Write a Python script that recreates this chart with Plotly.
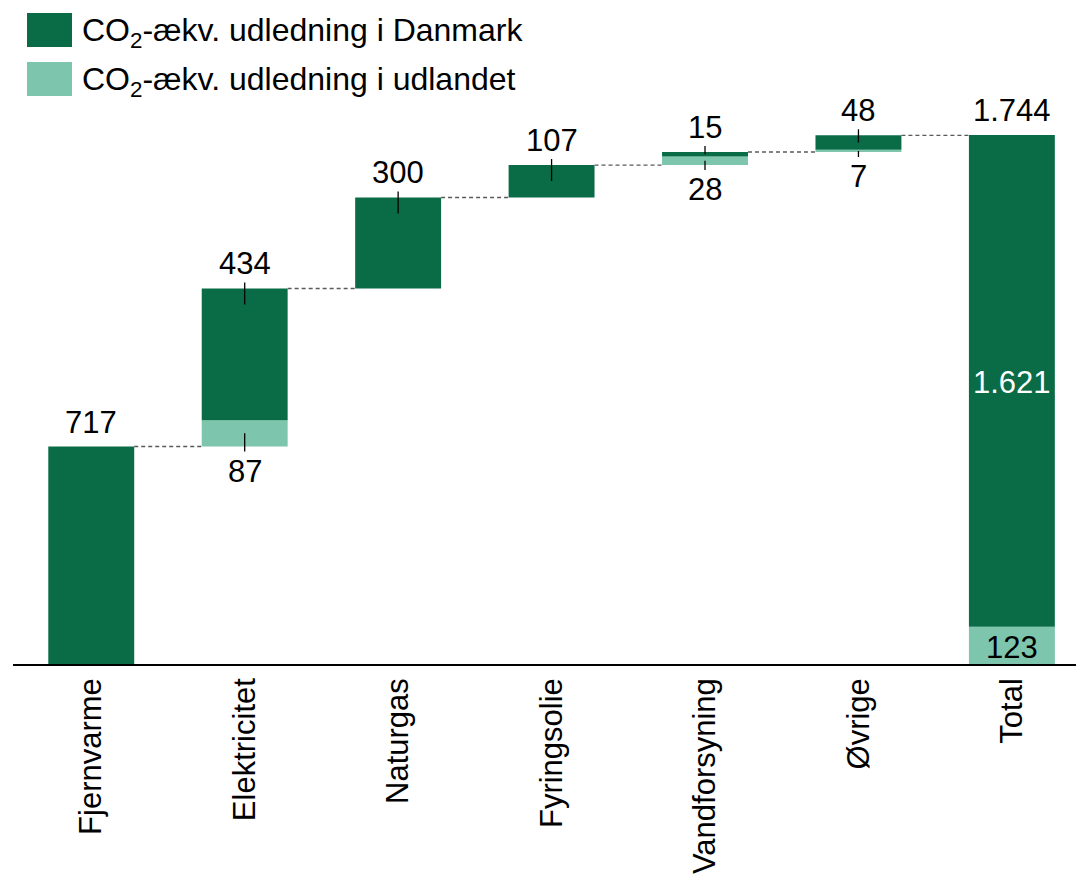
import plotly.graph_objects as go

# ---------------- data ----------------
categories = ["Fjernvarme", "Elektricitet", "Naturgas", "Fyringsolie",
              "Vandforsyning", "Øvrige", "Total"]
dk_values = [717, 434, 300, 107, 15, 48, 1621]        # CO2-ækv. udledning i Danmark
abroad_values = [0, 87, 0, 0, 28, 7, 123]              # CO2-ækv. udledning i udlandet
total_label_value = 1744

series_names = ["CO<sub>2</sub>-ækv. udledning i Danmark",
                "CO<sub>2</sub>-ækv. udledning i udlandet"]

# ---------------- style ----------------
DARK = "#0A6C46"
LIGHT = "#7DC5AC"
FONT = "Liberation Sans, Arial, sans-serif"
FS = 31          # numbers / tick labels
FS_LEG = 32      # legend
OFF = 8          # page body margin
W, H = 1084 - OFF, 877 - OFF
M_L, M_R, M_T, M_B = 13 - OFF, 0, 0, 213
plot_w = W - M_L - M_R
plot_h = H - M_T - M_B
Y_TOP = total_label_value * plot_h / 529.0   # axis range top
px_per_unit = plot_h / Y_TOP
BAR_W = 0.56

def fmt(v):
    return f"{v:,}".replace(",", ".")

n = len(categories)
x_idx = list(range(n))

# waterfall bases
bases = []
cum = 0
for i in range(n):
    if categories[i] == "Total":
        bases.append(0)
    else:
        bases.append(cum)
        cum += dk_values[i] + abroad_values[i]
abroad_base = bases
dk_base = [b + a for b, a in zip(bases, abroad_values)]
tops = [b + d for b, d in zip(dk_base, dk_values)]

fig = go.Figure()
fig.add_trace(go.Bar(x=x_idx, y=abroad_values, base=abroad_base, width=BAR_W,
                     marker=dict(color=LIGHT, line=dict(width=0)),
                     name=series_names[1], showlegend=False, hoverinfo="skip"))
fig.add_trace(go.Bar(x=x_idx, y=dk_values, base=dk_base, width=BAR_W,
                     marker=dict(color=DARK, line=dict(width=0)),
                     name=series_names[0], showlegend=False, hoverinfo="skip"))

shapes = []
annotations = []

def u(px):
    return px / px_per_unit

UP_SHIFT = 5
DOWN_SHIFT = -5

# connectors
for i in range(n - 1):
    shapes.append(dict(type="line", xref="x", yref="y",
                       x0=i + BAR_W / 2, x1=i + 1 - BAR_W / 2,
                       y0=tops[i], y1=tops[i],
                       line=dict(color="#5a5a5a", width=1.3, dash="4px,3px")))

for i in range(n):
    is_total = categories[i] == "Total"
    if is_total:
        annotations.append(dict(x=i, y=tops[i], xref="x", yref="y",
                                text=fmt(total_label_value), showarrow=False,
                                yanchor="bottom", yshift=UP_SHIFT,
                                font=dict(size=FS, color="black", family=FONT)))
        annotations.append(dict(x=i, y=dk_base[i] + dk_values[i] / 2, xref="x", yref="y",
                                text=fmt(dk_values[i]), showarrow=False,
                                yanchor="middle", yshift=-2,
                                font=dict(size=FS, color="white", family=FONT)))
        annotations.append(dict(x=i, y=abroad_base[i] + abroad_values[i] / 2, xref="x", yref="y",
                                text=fmt(abroad_values[i]), showarrow=False,
                                yanchor="middle", yshift=-2,
                                font=dict(size=FS, color="black", family=FONT)))
        continue
    annotations.append(dict(x=i, y=tops[i], xref="x", yref="y",
                            text=fmt(dk_values[i]), showarrow=False,
                            yanchor="bottom", yshift=UP_SHIFT,
                            font=dict(size=FS, color="black", family=FONT)))
    if i > 0:
        seg = dk_values[i]
        shapes.append(dict(type="line", xref="x", yref="y", x0=i, x1=i,
                           y0=tops[i] + u(6), y1=max(tops[i] - u(16), tops[i] - seg / 2),
                           line=dict(color="black", width=1.3)))
    if abroad_values[i] > 0:
        annotations.append(dict(x=i, y=abroad_base[i], xref="x", yref="y",
                                text=fmt(abroad_values[i]), showarrow=False,
                                yanchor="top", yshift=DOWN_SHIFT,
                                font=dict(size=FS, color="black", family=FONT)))
        seg = abroad_values[i]
        shapes.append(dict(type="line", xref="x", yref="y", x0=i, x1=i,
                           y0=abroad_base[i] - u(5),
                           y1=min(abroad_base[i] + u(16), abroad_base[i] + seg / 2),
                           line=dict(color="black", width=1.3)))

# manual legend (page pixel positions -> paper)
def px_x(px):
    return (px - OFF - M_L) / plot_w

def px_y(py):
    return 1 - (py - OFF - M_T) / plot_h

legend_rows = [(series_names[0], DARK, 13, 47), (series_names[1], LIGHT, 62, 96)]
for name, col, y0, y1 in legend_rows:
    shapes.append(dict(type="rect", xref="paper", yref="paper",
                       x0=px_x(27), x1=px_x(72), y0=px_y(y1), y1=px_y(y0),
                       fillcolor=col, line=dict(width=0)))
    annotations.append(dict(x=px_x(80), y=px_y((y0 + y1) / 2 + 2), xref="paper", yref="paper",
                            text=name, showarrow=False, xanchor="left", yanchor="middle",
                            font=dict(size=FS_LEG, color="black", family=FONT)))

fig.update_layout(
    width=W, height=H,
    margin=dict(l=M_L, r=M_R, t=M_T, b=M_B, pad=0),
    paper_bgcolor="white", plot_bgcolor="white",
    barmode="overlay",
    showlegend=False,
    shapes=shapes,
    annotations=annotations,
    font=dict(family=FONT, size=FS, color="black"),
    xaxis=dict(range=[-0.51, n - 0.53], tickmode="array", tickvals=x_idx, ticktext=categories,
               tickangle=-90, showgrid=False, zeroline=False, showline=True,
               linecolor="black", linewidth=1.5, ticks="",
               tickfont=dict(size=FS, family=FONT, color="black")),
    yaxis=dict(range=[0, Y_TOP], visible=False, showgrid=False, zeroline=False),
)

fig.write_html("out.html")
